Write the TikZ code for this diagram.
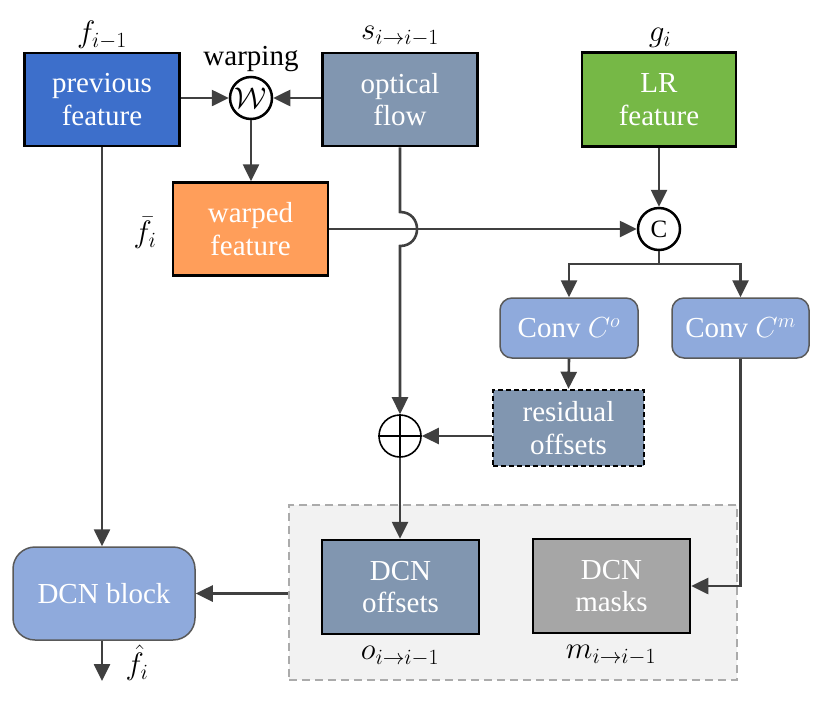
\RequirePackage{fix-cm}
\documentclass[tikz,border=0pt]{standalone}
\usepackage{fontspec}
\setmainfont{Liberation Serif}
\usetikzlibrary{arrows.meta,calc}
\definecolor{cprev}{HTML}{3D6FCB}
\definecolor{cflow}{HTML}{8196B0}
\definecolor{cgreen}{HTML}{76B846}
\definecolor{corange}{HTML}{FF9E5A}
\definecolor{cconv}{HTML}{8FAADC}
\definecolor{cmask}{HTML}{A6A6A6}
\definecolor{cline}{HTML}{404040}
\definecolor{cgbox}{HTML}{F2F2F2}
\definecolor{cgborder}{HTML}{ABABAB}
\begin{document}
\begin{tikzpicture}[x=1pt,y=-1pt,
  box/.style={draw=black,line width=2.5pt,text=white,align=center,inner sep=0pt,
    font=\fontsize{29}{32.5}\selectfont},
  rbox/.style={draw=black!65,line width=1.5pt,fill=cconv,text=white,align=center,inner sep=0pt,
    font=\fontsize{29}{32.5}\selectfont,rounded corners=12pt},
  op/.style={circle,draw=black,line width=2.5pt,fill=white,minimum size=42pt,inner sep=0pt},
  lab/.style={inner sep=0pt,font=\fontsize{31}{34}\selectfont},
  conn/.style={draw=cline,line width=2.6pt},
  arr/.style={conn,-{Triangle[length=17pt,width=16pt]}},
]
\useasboundingbox (0,0) rectangle (830,702);
% grey container
\node[draw=cgborder,fill=cgbox,dashed,dash pattern=on 8pt off 5pt,line width=2.5pt,
  minimum width=448pt,minimum height=175pt,inner sep=0pt] (gbox) at (513,592.5) {};
% boxes
\node[box,fill=cprev,minimum width=155pt,minimum height=93pt] (prev) at (102,99.5) {previous\\feature};
\node[box,fill=cflow,minimum width=155pt,minimum height=93pt] (flow) at (400,99.5) {optical\\flow};
\node[box,fill=cgreen,minimum width=154pt,minimum height=94pt] (lr) at (659,99.5) {LR\\feature};
\node[box,fill=corange,minimum width=155pt,minimum height=93pt] (warped) at (250.5,229) {warped\\feature};
\node[op] (W) at (251,98) {\fontsize{30}{30}\selectfont$\mathcal{W}$};
\node[op] (C) at (659,229) {\fontsize{25}{25}\selectfont C};
\node[rbox,minimum width=138pt,minimum height=60pt] (convo) at (569,328) {Conv $C^o$};
\node[rbox,minimum width=137pt,minimum height=60pt] (convm) at (740.5,328) {Conv $C^m$};
\node[box,fill=cflow,dashed,dash pattern=on 5pt off 3pt,minimum width=151pt,minimum height=76pt] (resid) at (568.5,428) {residual\\offsets};
\node[circle,draw=black,line width=1.6pt,fill=white,minimum size=42pt,inner sep=0pt] (plus) at (400,436) {};
\draw[black,line width=1.6pt] (plus.north) -- (plus.south) (plus.west) -- (plus.east);
\node[box,fill=cflow,minimum width=157pt,minimum height=94pt] (offs) at (400.5,587) {DCN\\offsets};
\node[box,fill=cmask,minimum width=157pt,minimum height=94pt] (masks) at (611.5,586) {DCN\\masks};
\node[rbox,rounded corners=22pt,minimum width=182pt,minimum height=93pt] (dcn) at (104,593.5) {DCN block};
% labels
\node[lab] (lf) at (102,35) {$f_{i-1}$};
\node[lab,font=\fontsize{29}{30}\selectfont] (lw) at (251,59) {warping};
\node[lab] (ls) at (400,36) {$s_{i\rightarrow i-1}$};
\node[lab] (lg) at (660,38) {$g_i$};
\node[lab] (lfb) at (145,233) {$\bar{f}_i$};
\node[lab] (lo) at (400,656) {$o_{i\rightarrow i-1}$};
\node[lab] (lm) at (611,655) {$m_{i\rightarrow i-1}$};
\node[lab] (lfh) at (137,663) {$\hat{f}_i$};
% connectors
\draw[arr] (prev.east |- W.west) -- (W.west);
\draw[arr] (flow.west |- W.east) -- (W.east);
\draw[arr] (W.south) -- (W.south |- warped.north);
\draw[arr] (lr.south) -- (C.north);
\draw[arr] (warped.east) -- (C.west);
\coordinate (j1) at (400,212);
\coordinate (j2) at (400,246);
\draw[arr] (flow.south) -- (j1) .. controls (422.7,212) and (422.7,246) .. (j2) -- (plus.north);
\coordinate (split) at (659,264);
\draw[conn] (C.south) -- (split);
\draw[arr] (split) -| (convo.north);
\draw[arr] (split) -| (convm.north);
\draw[arr] (convo.south) -- (resid.north);
\draw[arr] (resid.west |- plus.east) -- (plus.east);
\draw[arr] (plus.south) -- (plus.south |- offs.north);
\draw[arr] (convm.south) -- (convm.south |- masks.east) -- (masks.east);
\draw[arr] (gbox.west |- dcn.east) -- (dcn.east);
\draw[arr] (prev.south) -- (prev.south |- dcn.north);
\coordinate (out) at (102,681);
\draw[arr] (prev.south |- dcn.south) -- (out);
\end{tikzpicture}
\end{document}
